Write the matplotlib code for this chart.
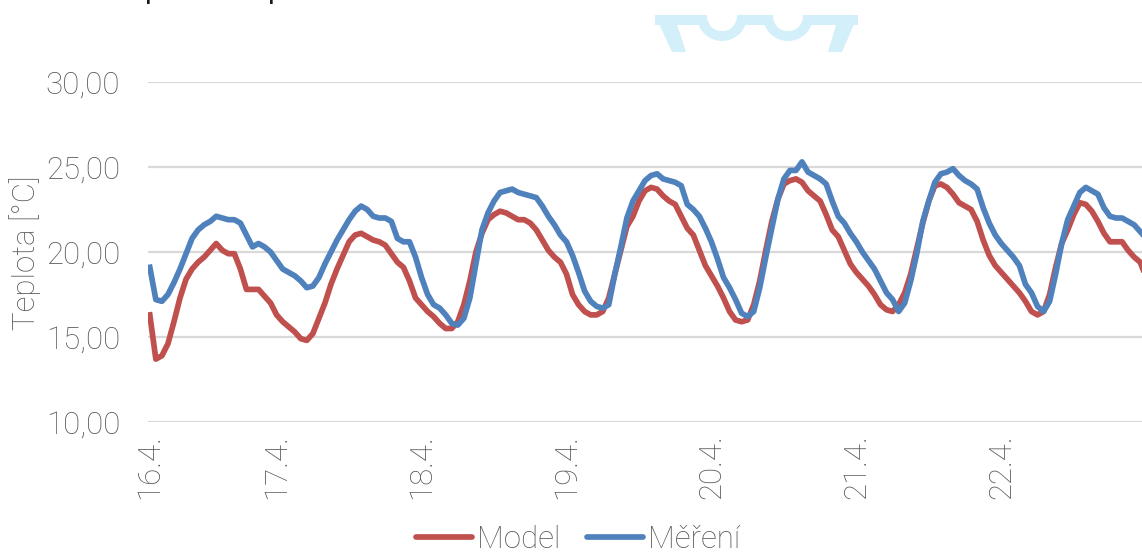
import matplotlib
matplotlib.use('Agg')
import matplotlib.pyplot as plt
from matplotlib.patches import Polygon, Wedge
from matplotlib.lines import Line2D

plt.rcParams['font.family'] = ['Roboto', 'DejaVu Sans']
plt.rcParams['font.weight'] = 'light'

W, H = 1142, 552
TXT = '#595959'
GRID = '#d9d9d9'
RED = '#c0504d'
BLUE = '#4f81bd'
LW = 4.1
FS = 22.5

# hourly samples, hours counted from 16.4. 00:00
hours = list(range(3, 169))

model = [
    16.3, 13.7, 13.9, 14.6, 15.9, 17.3, 18.4, 19.0, 19.4, 19.7,
    20.1, 20.5, 20.1, 19.9, 19.9, 19.0, 17.8, 17.8, 17.8, 17.4,
    17.0, 16.3, 15.9, 15.6, 15.3, 14.9, 14.8, 15.2, 16.1, 17.0,
    18.1, 19.0, 19.8, 20.6, 21.0, 21.1, 20.9, 20.7, 20.6, 20.4,
    19.9, 19.4, 19.1, 18.3, 17.3, 16.9, 16.5, 16.2, 15.8, 15.5,
    15.5, 15.9, 16.9, 18.3, 20.0, 21.1, 21.9, 22.2, 22.4, 22.3,
    22.1, 21.9, 21.9, 21.7, 21.3, 20.7, 20.1, 19.7, 19.4, 18.7,
    17.5, 16.9, 16.5, 16.3, 16.3, 16.5, 17.3, 18.7, 20.1, 21.5,
    22.1, 23.0, 23.6, 23.8, 23.7, 23.3, 23.0, 22.8, 22.1, 21.4,
    21.0, 20.1, 19.2, 18.6, 18.0, 17.3, 16.5, 16.0, 15.9, 16.0,
    16.9, 18.3, 20.1, 21.8, 23.1, 24.0, 24.2, 24.3, 24.1, 23.6,
    23.3, 23.0, 22.2, 21.3, 20.9, 20.1, 19.3, 18.8, 18.4, 18.0,
    17.5, 16.9, 16.6, 16.5, 16.9, 17.6, 18.7, 20.2, 21.7, 23.0,
    23.9, 24.0, 23.8, 23.4, 22.9, 22.7, 22.5, 21.8, 20.7, 19.8,
    19.2, 18.8, 18.4, 18.0, 17.6, 17.1, 16.5, 16.3, 16.5, 17.5,
    19.1, 20.5, 21.3, 22.2, 22.9, 22.8, 22.4, 21.8, 21.1, 20.6,
    20.6, 20.6, 20.1, 19.7, 19.4, 18.5,
]

mereni = [
    19.1, 17.2, 17.1, 17.5, 18.2, 19.0, 19.9, 20.8, 21.3, 21.6,
    21.8, 22.1, 22.0, 21.9, 21.9, 21.7, 21.0, 20.3, 20.5, 20.3,
    20.0, 19.5, 19.0, 18.8, 18.6, 18.3, 17.9, 18.0, 18.5, 19.3,
    20.0, 20.7, 21.3, 21.9, 22.4, 22.7, 22.5, 22.1, 22.0, 22.0,
    21.8, 20.8, 20.6, 20.6, 19.7, 18.5, 17.5, 16.9, 16.7, 16.3,
    15.8, 15.7, 16.1, 17.3, 19.3, 21.3, 22.3, 23.0, 23.5, 23.6,
    23.7, 23.5, 23.4, 23.3, 23.2, 22.7, 22.1, 21.6, 21.0, 20.6,
    19.8, 18.8, 17.7, 17.1, 16.8, 16.7, 16.9, 18.7, 20.3, 22.0,
    23.0, 23.6, 24.2, 24.5, 24.6, 24.3, 24.2, 24.1, 23.9, 22.8,
    22.5, 22.1, 21.4, 20.6, 19.6, 18.5, 17.9, 17.2, 16.4, 16.2,
    16.5, 17.9, 19.7, 21.4, 23.1, 24.3, 24.8, 24.8, 25.3, 24.7,
    24.5, 24.3, 24.0, 23.0, 22.1, 21.7, 21.1, 20.6, 20.0, 19.5,
    19.0, 18.3, 17.6, 17.2, 16.5, 17.0, 18.3, 19.9, 21.8, 23.0,
    24.1, 24.6, 24.7, 24.9, 24.5, 24.2, 24.0, 23.7, 22.6, 21.7,
    21.0, 20.5, 20.1, 19.7, 19.2, 18.1, 17.6, 16.8, 16.5, 17.1,
    18.7, 20.5, 21.9, 22.7, 23.5, 23.8, 23.6, 23.4, 22.6, 22.1,
    22.0, 22.0, 21.8, 21.6, 21.2, 20.8,
]

day_ticks = [3, 24, 48, 72, 96, 120, 144]
day_labels = ['16.4.', '17.4.', '18.4.', '19.4.', '20.4.', '21.4.', '22.4.']
y_ticks = [10, 15, 20, 25, 30]

fig = plt.figure(figsize=(W / 100, H / 100), dpi=100)
fig.patch.set_facecolor('white')

ax = fig.add_axes([148 / W, 1 - 422 / H, 1 - 148 / W, 340 / H])
ax.plot(hours, model, color=RED, lw=LW, solid_joinstyle='round', zorder=3)
ax.plot(hours, mereni, color=BLUE, lw=LW, solid_joinstyle='round', zorder=4)

ax.set_xlim(2.7, 167.3)
ax.set_ylim(10, 30)
ax.set_yticks(y_ticks)
ax.set_yticklabels([f'{v:.2f}'.replace('.', ',') for v in y_ticks])
ax.set_xticks(day_ticks)
ax.set_xticklabels(day_labels, rotation=90)
ax.tick_params(axis='y', length=0, pad=20, labelsize=FS, labelcolor=TXT)
ax.tick_params(axis='x', length=0, pad=9, labelsize=FS, labelcolor=TXT)
ax.grid(axis='y', color=GRID, lw=1.6)
ax.set_axisbelow(True)
for s in ax.spines.values():
    s.set_visible(False)

fig.text(25 / W, 1 - 253 / H, 'Teplota [°C]', rotation=90, ha='center',
         va='center', fontsize=FS, color=TXT)

handles = [Line2D([], [], color=RED, lw=LW, solid_capstyle='round'),
           Line2D([], [], color=BLUE, lw=LW, solid_capstyle='round')]
fig.legend(handles, ['Model', 'Měření'], loc='center', ncol=2,
           bbox_to_anchor=(578 / W, 1 - 539 / H), frameon=False,
           fontsize=FS, labelcolor=TXT, handlelength=1.8,
           handletextpad=0.15, columnspacing=0.85, borderpad=0)

# light logo strip and title remnants above the plot, in pixel coordinates
top = fig.add_axes([0, 0, 1, 1], zorder=-1)
top.set_xlim(0, W)
top.set_ylim(H, 0)
top.axis('off')
CYAN = '#d3eff9'
top.add_patch(Polygon([(655, 15), (858, 15), (858, 25), (655, 25)], color=CYAN, lw=0))
top.add_patch(Polygon([(655, 15), (674, 15), (686, 52), (672, 52)], color=CYAN, lw=0))
top.add_patch(Polygon([(839, 15), (858, 15), (842, 52), (828, 52)], color=CYAN, lw=0))
for cx in (722, 788):
    top.add_patch(Wedge((cx, 16), 25, 0, 180, width=10, color=CYAN, lw=0))
    top.add_patch(Wedge((cx, 16), 15, 0, 180, color='white', lw=0))
    top.add_patch(Polygon([(cx - 15, 15), (cx + 15, 15), (cx + 15, 16), (cx - 15, 16)],
                          color='white', lw=0))

for px in (145, 268):
    fig.text(px / W, 1 + 1 / H, 'p', fontsize=21, color='#1a1a1a',
             ha='left', va='baseline', family=['Lato', 'DejaVu Sans'],
             weight='normal')

fig.savefig('out.png', dpi=100, facecolor='white')
